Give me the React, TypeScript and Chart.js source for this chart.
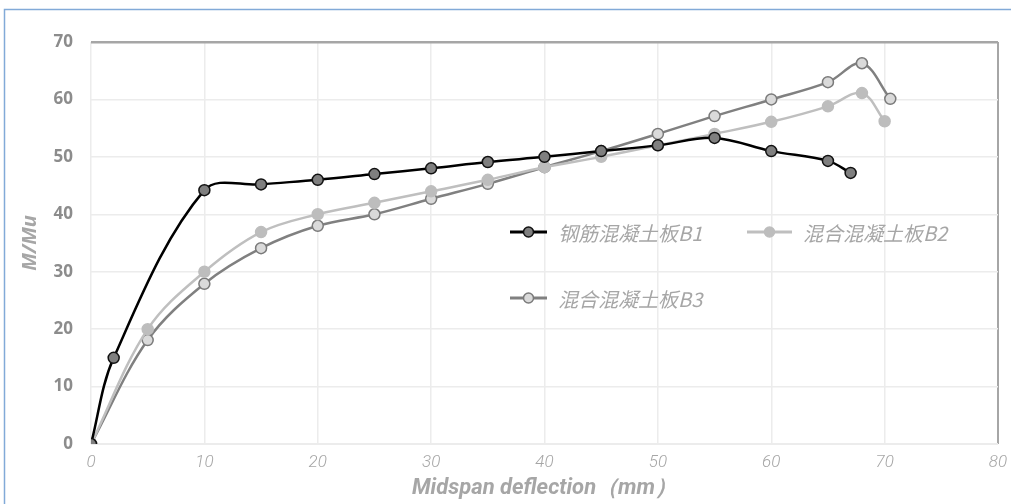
import React, { useEffect, useRef } from "react";
import { Chart, registerables } from "chart.js";

Chart.register(...registerables);

const seriesNames = ["钢筋混凝土板B1", "混合混凝土板B2", "混合混凝土板B3"];
const b1X = [0, 2, 10, 15, 20, 25, 30, 35, 40, 45, 50, 55, 60, 65, 67];
const b1Y = [0, 15, 44.2, 45.2, 46, 47, 48, 49.1, 50, 51, 52, 53.3, 51, 49.3, 47.2];
const b2X = [0, 5, 10, 15, 20, 25, 30, 35, 40, 45, 50, 55, 60, 65, 68, 70];
const b2Y = [0, 20, 30, 36.9, 40, 42, 44, 46, 48.2, 50, 52, 54, 56.1, 58.8, 61.1, 56.2];
const b3X = [0, 5, 10, 15, 20, 25, 30, 35, 40, 45, 50, 55, 60, 65, 68, 70.5];
const b3Y = [0, 18.1, 27.9, 34.1, 38, 40, 42.7, 45.3, 48.2, 51, 54, 57.1, 60, 63, 66.3, 60.1];
const xTicks = [0, 10, 20, 30, 40, 50, 60, 70, 80];
const yTicks = [0, 10, 20, 30, 40, 50, 60, 70];

const pts = (xs: number[], ys: number[]) => xs.map((x, i) => ({ x, y: ys[i] }));

const legendPos = [
  { x: 510, y: 232, w: 37 },
  { x: 747, y: 232, w: 45 },
  { x: 510, y: 298, w: 37 },
];

const framePlugin = {
  id: "frame",
  beforeDraw(chart: any) {
    const ctx = chart.ctx;
    ctx.save();
    ctx.fillStyle = "#ffffff";
    ctx.fillRect(0, 0, chart.width, chart.height);
    ctx.strokeStyle = "#82aad8";
    ctx.lineWidth = 1.5;
    ctx.beginPath();
    ctx.moveTo(4.5, chart.height + 5);
    ctx.lineTo(4.5, 9.5);
    ctx.lineTo(chart.width + 5, 9.5);
    ctx.stroke();
    ctx.restore();
  },
};

const legendPlugin = {
  id: "customLegend",
  afterDraw(chart: any) {
    const ctx = chart.ctx;
    ctx.save();
    chart.data.datasets.forEach((ds: any, i: number) => {
      const p = legendPos[i];
      ctx.strokeStyle = ds.borderColor;
      ctx.lineWidth = 3;
      ctx.beginPath();
      ctx.moveTo(p.x, p.y);
      ctx.lineTo(p.x + p.w, p.y);
      ctx.stroke();
      ctx.beginPath();
      ctx.arc(p.x + p.w / 2, p.y, 5, 0, Math.PI * 2);
      ctx.fillStyle = ds.pointBackgroundColor;
      ctx.fill();
      ctx.lineWidth = 1.5;
      ctx.strokeStyle = ds.pointBorderColor;
      ctx.stroke();
      ctx.fillStyle = "#a6a6a6";
      ctx.font = "italic 20px 'Noto Sans CJK SC', 'Open Sans', sans-serif";
      ctx.textBaseline = "middle";
      ctx.textAlign = "left";
      ctx.fillText(ds.label, p.x + p.w + 11, p.y + 1);
    });
    ctx.restore();
  },
};

export default function App() {
  const ref = useRef<HTMLCanvasElement | null>(null);
  useEffect(() => {
    document.body.style.margin = "0";
    const canvas = ref.current!;
    const chart = new Chart(canvas, {
      type: "line",
      data: {
        datasets: [
          {
            label: seriesNames[0],
            data: pts(b1X, b1Y),
            borderColor: "#000000",
            borderWidth: 2.5,
            pointBackgroundColor: "#7f7f7f",
            pointBorderColor: "#111111",
            pointBorderWidth: 1.5,
            pointRadius: 5.5,
            tension: 0.35,
          },
          {
            label: seriesNames[1],
            data: pts(b2X, b2Y),
            borderColor: "#bfbfbf",
            borderWidth: 2.5,
            pointBackgroundColor: "#bdbdbd",
            pointBorderColor: "#bdbdbd",
            pointBorderWidth: 1.5,
            pointRadius: 5.5,
            tension: 0.35,
          },
          {
            label: seriesNames[2],
            data: pts(b3X, b3Y),
            borderColor: "#808080",
            borderWidth: 2.5,
            pointBackgroundColor: "#dadada",
            pointBorderColor: "#7a7a7a",
            pointBorderWidth: 1.5,
            pointRadius: 5.5,
            tension: 0.35,
          },
        ],
      },
      options: {
        animation: false,
        responsive: false,
        maintainAspectRatio: false,
        layout: { padding: { left: 0, top: 42, right: 13, bottom: 0 } },
        plugins: { legend: { display: false }, tooltip: { enabled: false } },
        scales: {
          x: {
            type: "linear",
            min: 0,
            max: 80,
            afterBuildTicks: (s: any) => {
              s.ticks = xTicks.map((v) => ({ value: v }));
            },
            afterFit: (s: any) => {
              s.height = 60;
              s.paddingRight = 0;
              s.paddingLeft = 0;
            },
            border: { display: false },
            grid: {
              drawTicks: false,
              color: (c: any) => (c.tick && c.tick.value === 80 ? "#a6a6a6" : "#ececec"),
              lineWidth: (c: any) => (c.tick && c.tick.value === 80 ? 2 : 1.5),
            },
            ticks: {
              padding: 9,
              color: "#a6a6a6",
              font: { family: "'Roboto', sans-serif", size: 17, style: "italic", weight: "300" },
            },
            title: {
              display: true,
              text: "Midspan deflection（mm）",
              color: "#a6a6a6",
              padding: { top: 0, bottom: 2 },
              font: { family: "'Roboto', sans-serif", size: 22, style: "italic", weight: "bold" },
            },
          },
          y: {
            type: "linear",
            min: 0,
            max: 70,
            afterBuildTicks: (s: any) => {
              s.ticks = yTicks.map((v) => ({ value: v }));
            },
            afterFit: (s: any) => {
              s.width = 91;
              s.paddingTop = 0;
              s.paddingBottom = 0;
            },
            border: { display: false },
            grid: {
              drawTicks: false,
              color: (c: any) => (c.tick && c.tick.value === 70 ? "#a6a6a6" : "#ececec"),
              lineWidth: (c: any) => (c.tick && c.tick.value === 70 ? 2.5 : (c.tick && c.tick.value === 0 ? 2 : 1.5)),
            },
            ticks: {
              padding: 18,
              color: "#8c8c8c",
              font: { family: "'Open Sans', 'DejaVu Sans', sans-serif", size: 17, weight: "bold" },
            },
            title: {
              display: true,
              text: "M/Mu",
              color: "#a6a6a6",
              padding: { top: 18, bottom: 4 },
              font: { family: "'Open Sans', 'DejaVu Sans', sans-serif", size: 20, style: "italic", weight: "bold" },
            },
          },
        },
      },
      plugins: [framePlugin, legendPlugin],
    } as any);
    return () => chart.destroy();
  }, []);
  return <canvas ref={ref} width={1011} height={504} style={{ display: "block" }} />;
}
